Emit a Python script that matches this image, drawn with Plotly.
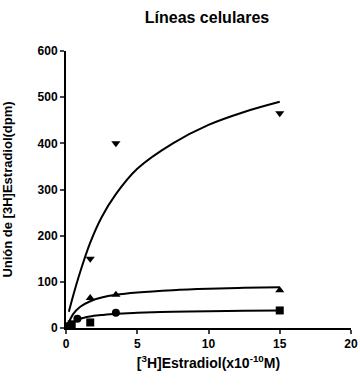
import plotly.graph_objects as go

# Marker data
tri_down_x = [1.7, 3.5, 15]
tri_down_y = [150, 400, 465]
tri_up_x = [0.3, 1.7, 3.5, 15]
tri_up_y = [10, 65, 72, 82]
circ_x = [0.2, 0.8, 3.5]
circ_y = [5, 20, 33]
sq_x = [0.4, 1.7, 15]
sq_y = [8, 12, 38]

# Fitted curves
top_cx = [0.2, 0.5, 1.0, 1.7, 2.5, 3.5, 5, 7.5, 10, 12.5, 15]
top_cy = [35, 70, 122, 185, 240, 290, 345, 400, 440, 468, 490]
mid_cx = [0.1, 0.5, 1.0, 1.7, 2.5, 3.5, 5, 7.5, 10, 12.5, 15]
mid_cy = [5, 30, 46, 58, 66, 72, 77, 82, 85, 87, 88]
bot_cx = [0.1, 0.5, 1.0, 1.7, 2.5, 3.5, 5, 7.5, 10, 12.5, 15]
bot_cy = [3, 12, 20, 25, 28, 31, 33, 35, 36.5, 37.5, 38]

x_ticks = [0, 5, 10, 15, 20]
y_ticks = [0, 100, 200, 300, 400, 500, 600]

fig = go.Figure()
for cx, cy in [(top_cx, top_cy), (mid_cx, mid_cy), (bot_cx, bot_cy)]:
    fig.add_trace(go.Scatter(x=cx, y=cy, mode="lines", line=dict(color="black", width=2, shape="spline"),
                             showlegend=False, hoverinfo="skip"))
for mx, my, sym in [(tri_down_x, tri_down_y, "triangle-down"), (tri_up_x, tri_up_y, "triangle-up"),
                    (circ_x, circ_y, "circle"), (sq_x, sq_y, "square")]:
    fig.add_trace(go.Scatter(x=mx, y=my, mode="markers", marker=dict(symbol=sym, color="black", size=8),
                             showlegend=False, cliponaxis=False))

tf = dict(size=12, weight="bold")
fig.update_layout(
    width=360, height=390,
    margin=dict(l=66, r=9, t=51, b=62),
    paper_bgcolor="white", plot_bgcolor="white",
    font=dict(family="Liberation Sans, Arial", color="black"),
    title=dict(text="<b>Líneas celulares</b>", x=0.575, xanchor="center", y=1 - 17 / 390, yanchor="middle",
               font=dict(size=16)),
    xaxis=dict(range=[0, 20], tickvals=x_ticks, showgrid=False, zeroline=False, showline=True,
               linecolor="black", linewidth=2, ticks="outside", tickwidth=1.5, ticklen=4, automargin=False,
               ticklabeloverflow="allow",
               tickfont=tf, title=dict(text="<b>[<sup>3</sup>H]Estradiol(x10<sup>-10</sup>M)</b>",
                                       font=dict(size=14), standoff=8)),
    yaxis=dict(range=[0, 600], tickvals=y_ticks, showgrid=False, zeroline=False, showline=True,
               linecolor="black", linewidth=2, ticks="outside", tickwidth=1.5, ticklen=4, automargin=False,
               tickfont=tf, title=dict(text="<b>Unión de [3H]Estradiol(dpm)</b>",
                                       font=dict(size=13), standoff=22)),
)
fig.write_html("out.html", config={"displayModeBar": False},
               post_script="document.body.style.margin='0';document.body.style.overflow='hidden';")
